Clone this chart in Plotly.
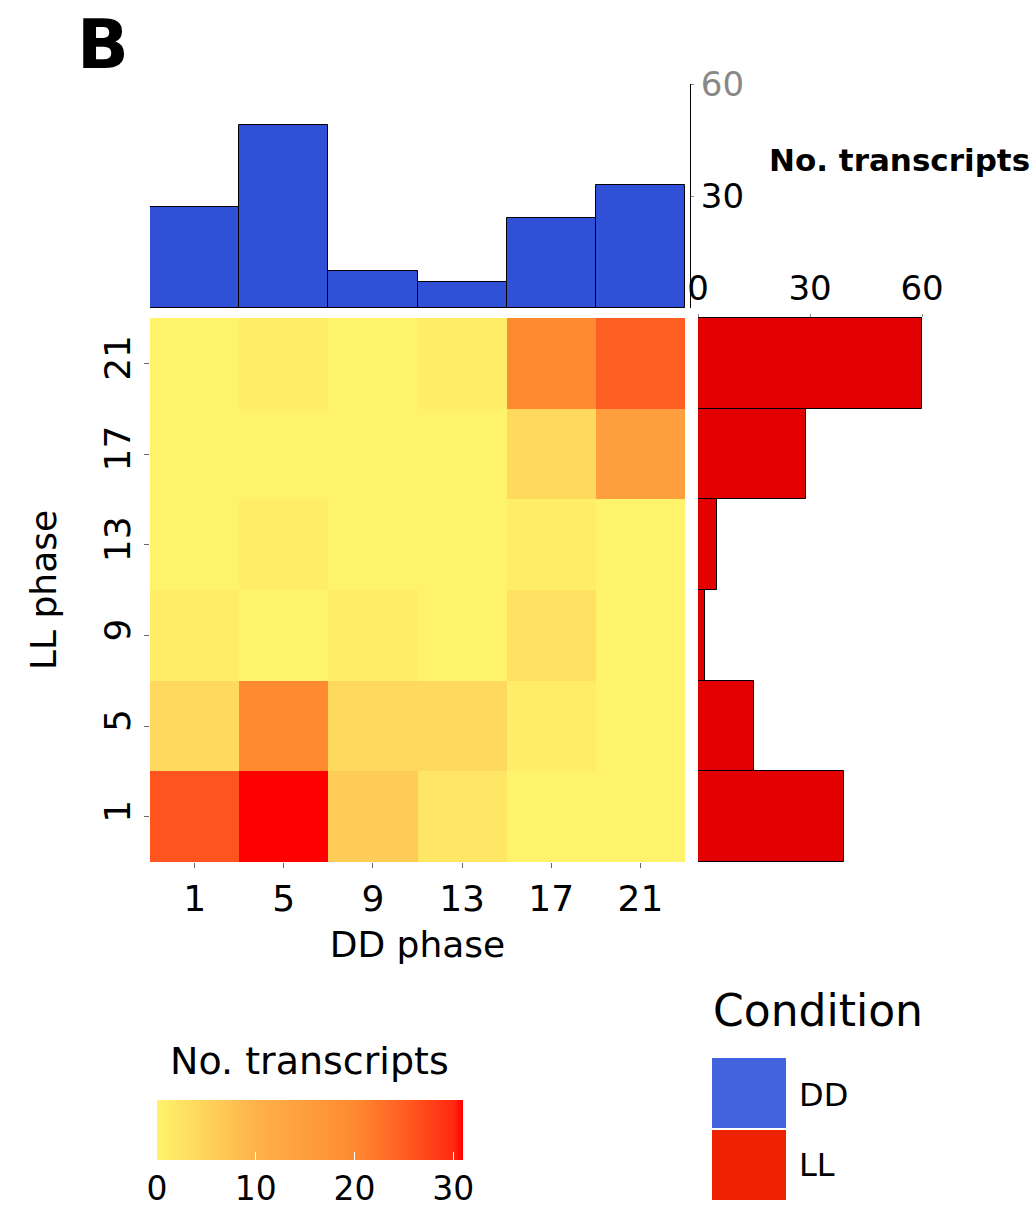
import plotly.graph_objects as go

# ---- data ----
dd_phase = [1, 5, 9, 13, 17, 21]
ll_phase = [1, 5, 9, 13, 17, 21]
dd_counts = [27, 49, 10, 7, 24, 33]
ll_counts = [39, 15, 2, 5, 29, 60]
# rows = LL phase (1..21), cols = DD phase (1..21)
heat_row_1 = [26, 31, 6, 2, 0, 0]
heat_row_5 = [4, 20, 4, 4, 1, 0]
heat_row_9 = [1, 0, 1, 0, 3, 0]
heat_row_13 = [0, 1, 0, 0, 1, 0]
heat_row_17 = [0, 0, 0, 0, 4, 15]
heat_row_21 = [0, 1, 0, 1, 20, 25]
heat_z = [heat_row_1, heat_row_5, heat_row_9, heat_row_13, heat_row_17, heat_row_21]
cbar_ticks = [0, 10, 20, 30]
hist_ticks = [0, 30, 60]
conditions = ["DD", "LL"]

W, H = 1036, 1219
FONT = "DejaVu Sans"


def px(x):
    return x / W


def py(y):
    return 1 - y / H


colorscale = [
    [0.0, "#FFF36C"], [0.161, "#FFD35A"], [0.323, "#FFB24A"], [0.484, "#FF9E3C"],
    [0.645, "#FF8A30"], [0.806, "#FF5E22"], [0.968, "#FF2A10"], [1.0, "#FF0000"],
]

fig = go.Figure()

fig.add_trace(go.Heatmap(
    x=dd_phase, y=ll_phase, z=heat_z, zmin=0, zmax=31,
    colorscale=colorscale, xaxis="x", yaxis="y", hoverongaps=False,
    colorbar=dict(
        orientation="h", x=px(310), xanchor="center", y=py(1100), yanchor="top",
        lenmode="pixels", len=306, thickness=60, outlinewidth=0, ypad=0, xpad=0,
        tickvals=cbar_ticks, ticks="inside", ticklen=8, tickcolor="white",
        tickfont=dict(size=33, family=FONT, color="black"),
    ),
))

fig.add_trace(go.Bar(
    x=dd_phase, y=dd_counts, xaxis="x2", yaxis="y2", name="DD",
    marker=dict(color="#3050D8", line=dict(color="black", width=1)), showlegend=False,
))

fig.add_trace(go.Bar(
    y=ll_phase, x=ll_counts, orientation="h", xaxis="x3", yaxis="y3", name="LL",
    marker=dict(color="#E30000", line=dict(color="black", width=1)), showlegend=False,
))

tickfont = dict(size=36, family=FONT, color="black")
histfont = dict(size=34, family=FONT, color="black")
fig.update_layout(
    width=W, height=H, margin=dict(l=0, r=0, t=0, b=0, autoexpand=False),
    paper_bgcolor="white", plot_bgcolor="white", bargap=0,
    font=dict(family=FONT, color="black"),
    xaxis=dict(domain=[px(150), px(685)], range=[-1, 23], tickvals=dd_phase,
               ticks="outside", ticklen=5, tickcolor="#666", tickfont=tickfont,
               showgrid=False, zeroline=False, anchor="y", automargin=False,
               title=dict(text="DD phase", font=dict(size=36, family=FONT), standoff=13)),
    yaxis=dict(domain=[py(862), py(318)], range=[-1, 23], tickvals=ll_phase,
               ticks="outside", ticklen=5, tickcolor="#666", tickfont=tickfont, tickangle=-90,
               showgrid=False, zeroline=False, anchor="x", automargin=False,
               title=dict(text="LL phase", font=dict(size=36, family=FONT), standoff=28)),
    xaxis2=dict(domain=[px(150), px(685)], matches="x", anchor="y2", visible=False),
    yaxis2=dict(domain=[py(308), py(84)], range=[0, 60], anchor="free", position=px(690),
                side="right", showline=True, linecolor="black", linewidth=1,
                tickvals=hist_ticks[1:], ticktext=["30", '<span style="color:#888">60</span>'],
                ticks="outside", ticklen=3, tickcolor="#888", tickfont=histfont,
                showgrid=False, zeroline=False, automargin=False),
    xaxis3=dict(domain=[px(698), px(922)], range=[0, 60], anchor="y3", side="top",
                showline=True, linecolor="black", linewidth=1, tickvals=hist_ticks,
                ticks="outside", ticklen=3, tickcolor="#888", tickfont=histfont,
                showgrid=False, zeroline=False, automargin=False),
    yaxis3=dict(domain=[py(862), py(318)], matches="y", anchor="x3", visible=False),
)

annotations = [
    dict(text="<b>B</b>", x=px(103), y=py(45), font=dict(size=68, family=FONT)),
    dict(text="<b>No. transcripts</b>", x=px(899), y=py(160), font=dict(size=31, family=FONT)),
    dict(text="No. transcripts", x=px(309), y=py(1061), font=dict(size=38, family=FONT)),
    dict(text="Condition", x=px(818), y=py(1010), font=dict(size=44, family=FONT)),
    dict(text=conditions[0], x=px(797), y=py(1095), xanchor="left", font=dict(size=32, family=FONT)),
    dict(text=conditions[1], x=px(797), y=py(1165), xanchor="left", font=dict(size=32, family=FONT)),
]
for a in annotations:
    a.update(xref="paper", yref="paper", showarrow=False)
    a.setdefault("xanchor", "center")
    a.setdefault("yanchor", "middle")
fig.update_layout(annotations=annotations)

fig.update_layout(shapes=[
    dict(type="rect", xref="paper", yref="paper", x0=px(712), x1=px(786), y0=py(1128), y1=py(1058),
         fillcolor="#4263DD", line=dict(width=0)),
    dict(type="rect", xref="paper", yref="paper", x0=px(712), x1=px(786), y0=py(1200), y1=py(1130),
         fillcolor="#EE2200", line=dict(width=0)),
])

fig.write_html("out.html", config={"displayModeBar": False},
               post_script="document.body.style.margin='0';")
